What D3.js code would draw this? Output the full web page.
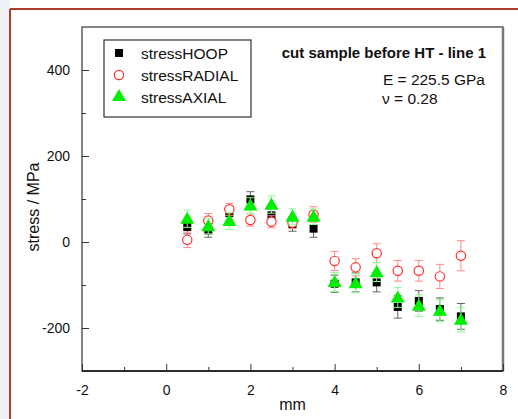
<!DOCTYPE html>
<html><head><meta charset="utf-8">
<script src="https://cdn.jsdelivr.net/npm/d3@7"></script>
<style>html,body{margin:0;padding:0;background:#fff;}svg{display:block;font-family:"Liberation Sans",Arial,sans-serif;}</style>
</head><body><svg id="c" width="518" height="419"></svg>
<script>
const positions = [0.5,1.0,1.5,2.0,2.5,3.0,3.5,4.0,4.5,5.0,5.5,6.0,6.5,7.0];
const hoop      = [35, 27, 67, 99, 62, 41, 31, -97, -94, -94, -151, -137, -156, -173];
const hoopErr   = [16, 16, 16, 18, 16, 16, 20, 20, 22, 22, 26, 24, 26, 30];
const radial    = [5, 50, 76, 51, 47, 45, 64, -44, -59, -26, -67, -67, -80, -32];
const radialErr = [18, 16, 14, 14, 14, 14, 18, 22, 20, 22, 24, 24, 28, 35];
const axial     = [54, 37, 49, 85, 87, 59, 59, -93, -96, -70, -129, -148, -160, -181];
const axialErr  = [20, 18, 20, 18, 20, 18, 18, 22, 22, 22, 23, 25, 26, 28];
const xTicks = [-2, 0, 2, 4, 6, 8];
const xMinor = [-1, 1, 3, 5, 7];
const yTicks = [-200, 0, 200, 400];
const yMinor = [-300, -100, 100, 300];
const seriesNames = ["stressHOOP", "stressRADIAL", "stressAXIAL"];

const fmt = d => String(d);
const svg = d3.select("#c");
// background
svg.append("rect").attr("x",0).attr("y",0).attr("width",10).attr("height",419).attr("fill","#eef2f6");
svg.append("path").attr("d","M10,9 H518 M10,9 V419").attr("stroke","#b03a2e").attr("stroke-width",2).attr("fill","none");

const L=82, T=27, R=503, B=371;
const x = d3.scaleLinear().domain([-2,8]).range([L,R]);
const y = d3.scaleLinear().domain([-300,500]).range([B,T]);

// frame
svg.append("rect").attr("x",L).attr("y",T).attr("width",R-L).attr("height",B-T)
  .attr("fill","#fff").attr("stroke","#444").attr("stroke-width",1.3);
svg.append("line").attr("x1",R).attr("x2",R).attr("y1",T).attr("y2",B).attr("stroke","#777").attr("stroke-width",2.5);
svg.append("line").attr("x1",L).attr("x2",R).attr("y1",B).attr("y2",B).attr("stroke","#111").attr("stroke-width",1.5);

// axes with inward ticks
const xAxis = svg.append("g").attr("transform",`translate(0,${B})`)
  .call(d3.axisBottom(x).tickValues(xTicks).tickSize(-7).tickPadding(14).tickFormat(fmt));
xAxis.select(".domain").remove();
xAxis.selectAll("text").attr("font-size",14).attr("fill","#111").attr("font-family","Liberation Sans, Arial, sans-serif");
xAxis.selectAll("line").attr("stroke","#333");
const xAxisMin = svg.append("g").attr("transform",`translate(0,${B})`)
  .call(d3.axisBottom(x).tickValues(xMinor).tickSize(-4).tickFormat(""));
xAxisMin.select(".domain").remove();
xAxisMin.selectAll("line").attr("stroke","#333");

const yAxis = svg.append("g").attr("transform",`translate(${L},0)`)
  .call(d3.axisLeft(y).tickValues(yTicks).tickSize(-7).tickPadding(12).tickFormat(fmt));
yAxis.select(".domain").remove();
yAxis.selectAll("text").attr("font-size",14).attr("fill","#111").attr("font-family","Liberation Sans, Arial, sans-serif");
yAxis.selectAll("line").attr("stroke","#333");
const yAxisMin = svg.append("g").attr("transform",`translate(${L},0)`)
  .call(d3.axisLeft(y).tickValues(yMinor).tickSize(-4).tickFormat(""));
yAxisMin.select(".domain").remove();
yAxisMin.selectAll("line").attr("stroke","#333");

svg.append("text").attr("x",(L+R)/2).attr("y",410).attr("text-anchor","middle")
  .attr("font-size",16).attr("fill","#111").text("mm");
svg.append("text").attr("transform",`translate(39,${(T+B)/2+8}) rotate(-90)`).attr("text-anchor","middle")
  .attr("font-size",16).attr("fill","#111").text("stress / MPa");

// series
const sym = {
  square: d3.symbol().type(d3.symbolSquare).size(64),
  circle: d3.symbol().type(d3.symbolCircle).size(68),
  triangle: d3.symbol().type(d3.symbolTriangle).size(85)
};
const series = [
  {vals:hoop, err:hoopErr, shape:"square", fill:"#000", stroke:"none", errColor:"#666"},
  {vals:radial, err:radialErr, shape:"circle", fill:"#fff", stroke:"#ff3030", errColor:"#ff8a8a"},
  {vals:axial, err:axialErr, shape:"triangle", fill:"#00ee00", stroke:"none", errColor:"#8aff8a"}
];
series.forEach(s=>{
  const g = svg.append("g");
  positions.forEach((p,i)=>{
    const cx=x(p), y1=y(s.vals[i]+s.err[i]), y2=y(s.vals[i]-s.err[i]);
    g.append("path").attr("d",`M${cx},${y1}V${y2}M${cx-4},${y1}H${cx+4}M${cx-4},${y2}H${cx+4}`)
      .attr("stroke",s.errColor).attr("stroke-width",1).attr("fill","none");
  });
  positions.forEach((p,i)=>{
    g.append("path").attr("d",sym[s.shape]()).attr("transform",`translate(${x(p)},${y(s.vals[i]) + (s.shape==="triangle"?1:0)})`)
      .attr("fill",s.fill).attr("stroke",s.stroke).attr("stroke-width",1.2);
  });
});

// legend
svg.append("rect").attr("x",104).attr("y",40).attr("width",147).attr("height",77)
  .attr("fill","#fff").attr("stroke","#333").attr("stroke-width",1.2);
series.forEach((s,i)=>{
  const cy = 53 + i*22;
  svg.append("path").attr("d",sym[s.shape]()).attr("transform",`translate(119,${cy})`)
    .attr("fill",s.fill).attr("stroke",s.stroke).attr("stroke-width",1.2);
  svg.append("text").attr("x",141).attr("y",cy+5.5).attr("font-size",15.5).attr("fill","#111").text(seriesNames[i]);
});

svg.append("text").attr("x",486).attr("y",58).attr("text-anchor","end").attr("font-weight","bold")
  .attr("font-size",15).attr("fill","#111").text("cut sample before HT - line 1");
svg.append("text").attr("x",485).attr("y",85).attr("text-anchor","end")
  .attr("font-size",15.5).attr("fill","#111").text("E = 225.5 GPa");
svg.append("text").attr("x",382).attr("y",104)
  .attr("font-size",15.5).attr("fill","#111").text("\u03bd = 0.28");
</script></body></html>
